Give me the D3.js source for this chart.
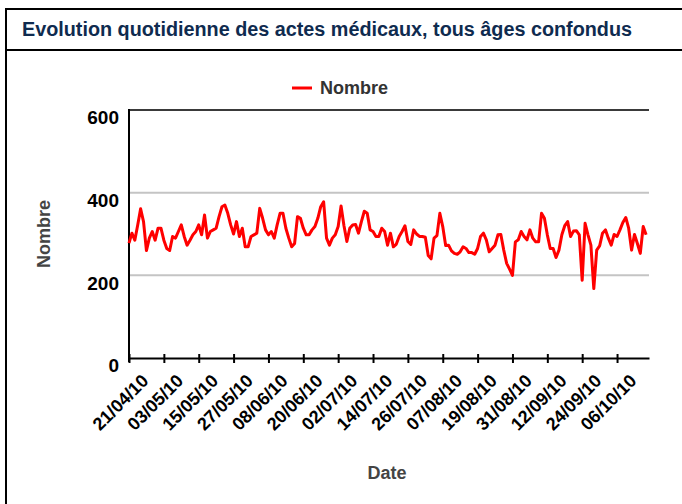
<!DOCTYPE html>
<html>
<head>
<meta charset="utf-8">
<script src="https://cdn.jsdelivr.net/npm/d3@7"></script>
<style>
  body { margin: 0; background: #ffffff; }
  text { font-family: 'Liberation Sans', Arial, sans-serif; font-weight: bold; }
</style>
</head>
<body>
<div id="container"></div>
<script>
var title = 'Evolution quotidienne des actes médicaux, tous âges confondus'
var seriesName = 'Nombre'
var xTitle = 'Date'
var yTitle = 'Nombre'
var startDate = '21/04/10'
var dayCount = 179

// one value per day, starting 21/04/10
var values = [
    278, 302, 285, 322, 361, 330, 260, 290, 306, 285,
    314, 314, 285, 265, 260, 294, 290, 306, 322, 294,
    273, 285, 298, 306, 322, 298, 346, 290, 306, 310,
    314, 342, 366, 370, 350, 322, 300, 330, 294, 314,
    269, 269, 294, 298, 302, 362, 338, 310, 298, 306,
    290, 322, 350, 350, 314, 290, 269, 277, 342, 338,
    314, 298, 298, 310, 318, 338, 366, 378, 290, 273,
    290, 298, 318, 368, 320, 282, 314, 322, 323, 302,
    330, 355, 350, 310, 306, 294, 294, 314, 306, 273,
    302, 269, 275, 294, 306, 320, 282, 275, 310, 300,
    294, 294, 292, 248, 240, 290, 296, 350, 318, 272,
    273, 259, 253, 251, 257, 269, 265, 255, 255, 251,
    265, 294, 302, 286, 257, 265, 273, 298, 299, 261,
    229, 215, 200, 281, 286, 306, 294, 286, 310, 290,
    281, 281, 350, 338, 298, 265, 265, 243, 261, 298,
    320, 330, 294, 307, 308, 298, 188, 326, 298, 273,
    168, 261, 271, 302, 310, 290, 273, 299, 294, 310,
    328, 340, 314, 261, 299, 277, 253, 318, 298
]

var tickLabels = ['21/04/10', '03/05/10', '15/05/10', '27/05/10', '08/06/10',
    '20/06/10', '02/07/10', '14/07/10', '26/07/10', '07/08/10', '19/08/10',
    '31/08/10', '12/09/10', '24/09/10', '06/10/10']
var yTicks = [0, 200, 400, 600]
var gridValues = [200, 400]

var width = 682
var height = 504
var plotLeft = 129
var plotRight = 649
var plotTop = 110
var plotBottom = 358

var parseDate = d3.utcParse('%d/%m/%y')
var start = parseDate(startDate)

var data = values.map(function(v, i){
    return { date: d3.utcDay.offset(start, i), value: v }
})

var x = d3.scaleUtc()
    .domain([start, d3.utcDay.offset(start, dayCount)])
    .range([plotLeft, plotRight])

var y = d3.scaleLinear()
    .domain([0, 600])
    .range([plotBottom, plotTop])

var svg = d3.select('#container').append('svg')
    .attr('width', width)
    .attr('height', height)

// frame and header
svg.append('rect')
    .attr('x', 6)
    .attr('y', 9)
    .attr('width', width)
    .attr('height', height)
    .attr('fill', 'none')
    .attr('stroke', '#000')
    .attr('stroke-width', 2)

svg.append('line')
    .attr('x1', 6).attr('x2', width)
    .attr('y1', 50).attr('y2', 50)
    .attr('stroke', '#000')
    .attr('stroke-width', 2)

svg.append('text')
    .attr('x', 22)
    .attr('y', 36)
    .attr('font-size', 19.5)
    .attr('textLength', 610)
    .attr('lengthAdjust', 'spacingAndGlyphs')
    .attr('fill', '#0f2b4f')
    .text(title)

// legend
svg.append('line')
    .attr('x1', 292).attr('x2', 312)
    .attr('y1', 88).attr('y2', 88)
    .attr('stroke', '#ff0000')
    .attr('stroke-width', 3)

svg.append('text')
    .attr('x', 320)
    .attr('y', 94)
    .attr('font-size', 18)
    .attr('fill', '#333')
    .text(seriesName)

// grid
svg.selectAll('line.grid')
    .data(gridValues)
    .enter()
    .append('line')
    .attr('class', 'grid')
    .attr('x1', plotLeft).attr('x2', plotRight)
    .attr('y1', function(d){ return y(d) })
    .attr('y2', function(d){ return y(d) })
    .attr('stroke', '#c4c4c4')
    .attr('stroke-width', 2)

svg.append('line')
    .attr('x1', plotLeft).attr('x2', plotRight)
    .attr('y1', y(600)).attr('y2', y(600))
    .attr('stroke', '#3a3a3a')
    .attr('stroke-width', 2)

// y axis
var yAxis = d3.axisLeft(y)
    .tickValues(yTicks)
    .tickSize(0)
    .tickPadding(10)

var gy = svg.append('g')
    .attr('transform', 'translate(' + plotLeft + ',0)')
    .call(yAxis)

gy.select('.domain').remove()
gy.selectAll('text')
    .attr('font-size', 19)
    .attr('font-family', null)
    .attr('fill', '#000')
    .attr('dy', '0.72em')

svg.append('line')
    .attr('x1', plotLeft).attr('x2', plotLeft)
    .attr('y1', plotTop - 1).attr('y2', plotBottom + 4)
    .attr('stroke', '#000')
    .attr('stroke-width', 2)

// x axis
var xAxis = d3.axisBottom(x)
    .tickValues(tickLabels.map(parseDate))
    .tickFormat(d3.utcFormat('%d/%m/%y'))
    .tickSize(5)
    .tickSizeOuter(0)

var gx = svg.append('g')
    .attr('transform', 'translate(0,' + plotBottom + ')')
    .call(xAxis)

gx.select('.domain')
    .attr('stroke', '#000')
    .attr('stroke-width', 2)
gx.selectAll('.tick line')
    .attr('y1', -4)
    .attr('stroke', '#000')
    .attr('stroke-width', 2)
gx.selectAll('.tick text')
    .attr('font-size', 18)
    .attr('font-family', null)
    .attr('fill', '#000')
    .attr('text-anchor', 'end')
    .attr('dy', null)
    .attr('y', 0)
    .attr('transform', 'translate(20,24) rotate(-45)')

// series
var line = d3.line()
    .x(function(d){ return x(d.date) })
    .y(function(d){ return y(d.value) })

svg.append('path')
    .datum(data)
    .attr('d', line)
    .attr('fill', 'none')
    .attr('stroke', '#ff0000')
    .attr('stroke-width', 3)
    .attr('stroke-linejoin', 'round')

// axis titles
svg.append('text')
    .attr('transform', 'translate(50,234) rotate(-90)')
    .attr('text-anchor', 'middle')
    .attr('font-size', 18)
    .attr('fill', '#444')
    .text(yTitle)

svg.append('text')
    .attr('x', 387)
    .attr('y', 479)
    .attr('text-anchor', 'middle')
    .attr('font-size', 18)
    .attr('fill', '#444')
    .text(xTitle)
</script>
</body>
</html>
